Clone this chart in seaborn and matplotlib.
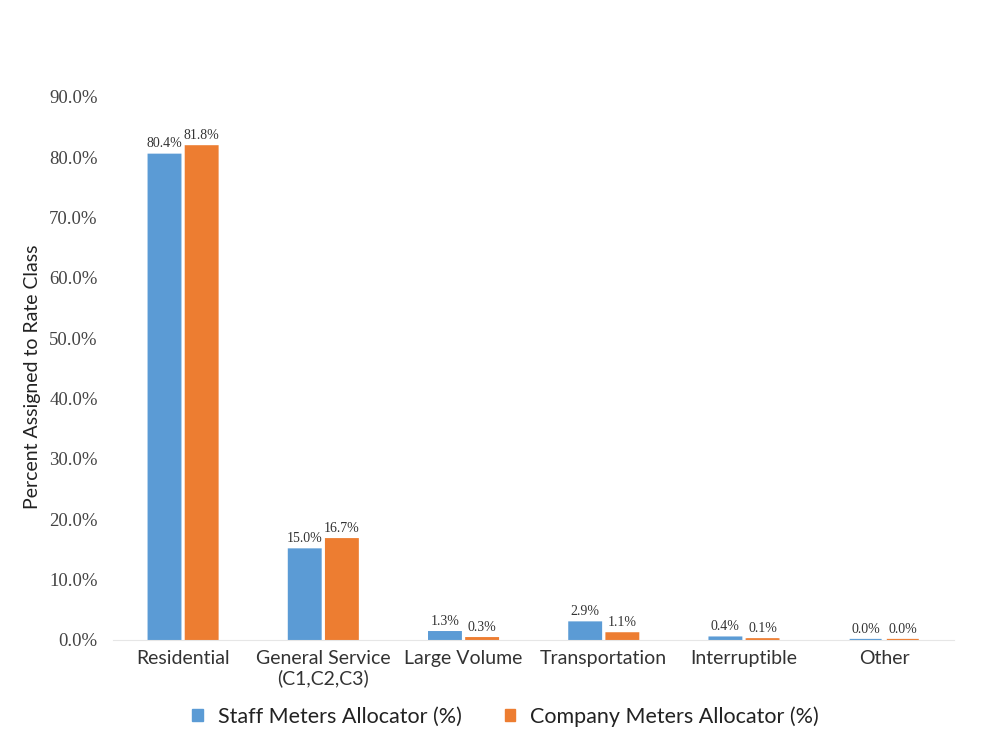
import matplotlib
matplotlib.use("Agg")
import matplotlib.pyplot as plt
import seaborn as sns
import pandas as pd
from matplotlib.patches import Patch

# Rate classes and allocation shares (%)
categories = ["Residential", "General Service\n(C1,C2,C3)", "Large Volume",
              "Transportation", "Interruptible", "Other"]
staff_meters = [80.4, 15.0, 1.3, 2.9, 0.4, 0.0]
company_meters = [81.8, 16.7, 0.3, 1.1, 0.1, 0.0]
series_names = ["Staff Meters Allocator (%)", "Company Meters Allocator (%)"]
y_ticks = [0, 10, 20, 30, 40, 50, 60, 70, 80, 90]

colors = ["#5B9BD5", "#ED7D31"]

df = pd.DataFrame({
    "Rate Class": categories * 2,
    "Series": [series_names[0]] * len(categories) + [series_names[1]] * len(categories),
    "Value": staff_meters + company_meters,
})

sns.set_theme(style="white")
plt.rcParams["font.family"] = ["Lato", "DejaVu Sans"]
serif = ["Liberation Serif", "DejaVu Serif"]

fig = plt.figure(figsize=(9.91, 7.38), dpi=100)
ax = fig.add_axes([0.114, 0.133, 0.849, 0.736])

sns.barplot(data=df, x="Rate Class", y="Value", hue="Series", order=categories,
            hue_order=series_names, palette=colors, width=0.53, gap=0.14,
            ax=ax, legend=False, errorbar=None, saturation=1)

# Thin outline so zero-height bars remain visible as a line
for bar_container, c in zip(ax.containers, colors):
    for patch in bar_container:
        patch.set_edgecolor(c)
        patch.set_linewidth(1.4)
        patch.set_snap(False)
    ax.bar_label(bar_container, labels=[f"{v:.1f}%" for v in bar_container.datavalues],
                 padding=3, fontsize=10, color="#333333", family=serif)

ax.set_ylim(0, 90)
ax.set_yticks(y_ticks)
ax.set_yticklabels([f"{t:.1f}%" for t in y_ticks], family=serif,
                   fontsize=13.5, color="#444444")
ax.set_xlim(-0.5, len(categories) - 0.5)
ax.tick_params(axis="x", labelsize=14, colors="#333333", length=0, pad=7)
ax.tick_params(axis="y", length=0, pad=11)
ax.set_xlabel("")
ax.set_ylabel("Percent Assigned to Rate Class", fontsize=14, color="#222222")
ax.yaxis.set_label_coords(-0.085, 0.485)

for side in ["top", "right", "left"]:
    ax.spines[side].set_visible(False)
ax.spines["bottom"].set_color("#e6e6e6")
ax.spines["bottom"].set_linewidth(0.8)

handles = [Patch(facecolor=c, edgecolor=c) for c in colors]
fig.legend(handles, series_names, loc="center", bbox_to_anchor=(0.51, 0.029),
           ncol=2, frameon=False, fontsize=15.5, handlelength=0.5, handleheight=0.5,
           columnspacing=2.0, handletextpad=0.7, labelcolor="#222222")

fig.savefig("out.png", dpi=100, facecolor="white")
